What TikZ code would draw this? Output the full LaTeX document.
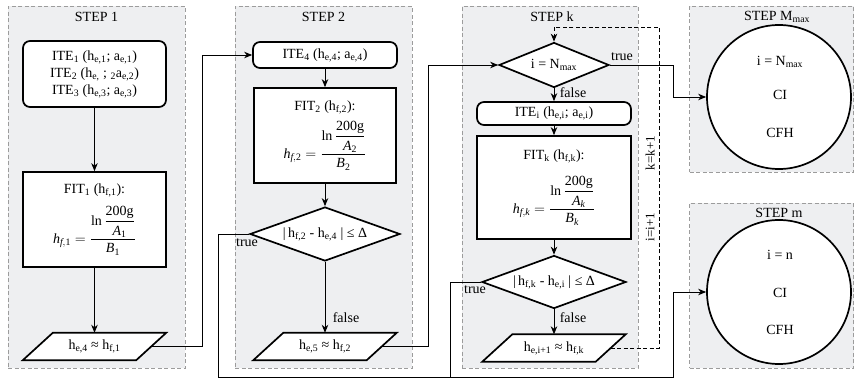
\documentclass[tikz,border=0pt]{standalone}
\usepackage{fontspec}
\setmainfont{Liberation Serif}
\usepackage{amsmath}
\usetikzlibrary{shapes.geometric,arrows.meta,calc}
\definecolor{panelgray}{HTML}{EEEFF1}
\definecolor{panelline}{HTML}{9C9C9C}
\newcommand\sbs[1]{\textsubscript{#1}}
\newcommand\fitformula[1]{$\displaystyle \textit{h}_{\textit{f},#1}=\frac{\textrm{ln}\,\dfrac{\textrm{200g}}{\textit{A}_{#1}}}{\textit{B}_{#1}}$}
\pgfdeclarelayer{back}
\pgfdeclarelayer{mid}
\pgfsetlayers{back,mid,main}
\begin{document}
\begin{tikzpicture}[x=1pt,y=-1pt,
  font=\fontsize{14pt}{17pt}\selectfont,
  panel/.style={draw=panelline, fill=panelgray, line width=0.8pt, dash pattern=on 4pt off 2.5pt, inner sep=0pt},
  thickbox/.style={draw, line width=1.7pt, fill=white},
  rbox/.style={thickbox, rounded corners=7pt, inner sep=0pt, align=center},
  sbox/.style={thickbox, inner sep=0pt, align=center},
  dia/.style={thickbox, shape=diamond, aspect=2.8, inner sep=0pt},
  circ/.style={thickbox, shape=circle, minimum size=144pt, inner sep=0pt},
  conn/.style={line width=0.9pt},
  arr/.style={conn, -{Stealth[length=8pt,width=6.5pt,inset=2.5pt]}},
  darr/.style={arr, dash pattern=on 4pt off 2.5pt},
  dconn/.style={conn, dash pattern=on 4pt off 2.5pt},
  pgram/.style={minimum width=113pt, minimum height=27pt, inner sep=0pt},
  lbl/.style={inner sep=1pt},
  rlbl/.style={inner sep=1pt, rotate=90, font=\fontsize{13pt}{15pt}\selectfont}
]
\useasboundingbox (0,0) rectangle (855,378);

% panels
\begin{pgfonlayer}{back}
\node[panel, minimum width=177pt, minimum height=362pt] (P1) at (96.5,187) {};
\node[panel, minimum width=177pt, minimum height=362pt] (P2) at (323.5,187) {};
\node[panel, minimum width=176pt, minimum height=362pt] (Pk) at (550,187) {};
\node[panel, minimum width=164pt, minimum height=166pt] (PM) at (771.5,89) {};
\node[panel, minimum width=164pt, minimum height=165pt] (Pm) at (771.5,285.5) {};
\end{pgfonlayer}

% titles
\node (t1) at (96.5,17) {STEP 1};
\node (t2) at (323.5,17) {STEP 2};
\node (tk) at (552,17) {STEP k};
\node (tM) at (777,17) {STEP M\sbs{max}};
\node (tm) at (779,213) {STEP m};

% step 1
\node[rbox, minimum width=143pt, minimum height=66pt] (ite123) at (94.5,74)
  {ITE\sbs{1} (h\sbs{e,1}; a\sbs{e,1})\\ITE\sbs{2} (h\sbs{e,} ; \sbs{2}a\sbs{e,2})\\ITE\sbs{3} (h\sbs{e,3}; a\sbs{e,3})};
\node[sbox, minimum width=143pt, minimum height=95pt] (fit1) at (94.5,219.5)
  {FIT\sbs{1} (h\sbs{f,1}):\\[8pt]\fitformula{\textrm{1}}};
\node[pgram] (pg1) at (94.5,346.5) {h\sbs{e,4} ≈ h\sbs{f,1}};

% step 2
\node[rbox, minimum width=144pt, minimum height=26pt] (ite4) at (325,55) {ITE\sbs{4} (h\sbs{e,4}; a\sbs{e,4})};
\node[sbox, minimum width=142pt, minimum height=95pt] (fit2) at (325,135.5)
  {FIT\sbs{2} (h\sbs{f,2}):\\[6pt]\fitformula{\textrm{2}}};
\node[dia, minimum width=150pt, minimum height=54pt] (d2) at (325,234) {|\,h\sbs{f,2} - h\sbs{e,4} | ≤ Δ};
\node[pgram] (pg2) at (325,346.5) {h\sbs{e,5} ≈ h\sbs{f,2}};

% step k
\node[dia, minimum width=110pt, minimum height=45pt] (dk1) at (554,65) {i = N\sbs{max}};
\node[rbox, minimum width=154pt, minimum height=23pt] (itei) at (554,113.5) {ITE\sbs{i} (h\sbs{e,i}; a\sbs{e,i})};
\node[sbox, minimum width=154pt, minimum height=103pt] (fitk) at (554,187.5)
  {FIT\sbs{k} (h\sbs{f,k}):\\[12pt]\fitformula{\textit{k}}};
\node[dia, minimum width=144pt, minimum height=53pt] (dk2) at (554,282) {|\,h\sbs{f,k} - h\sbs{e,i} | ≤ Δ};
\node[pgram] (pgk) at (554,348) {h\sbs{e,i+1} ≈ h\sbs{f,k}};

% parallelogram outlines
\begin{pgfonlayer}{mid}
\foreach \p in {pg1,pg2,pgk}{
  \draw[thickbox] ([xshift=15pt]\p.north west) -- ([xshift=15pt]\p.north east)
     -- ([xshift=-15pt]\p.south east) -- ([xshift=-15pt]\p.south west) -- cycle;
}
\end{pgfonlayer}

% final steps
\node[circ] (cM) at (779,97) {};
\node (cM1) at (780,62) {i = N\sbs{max}};
\node (cM2) at (780,95) {CI};
\node (cM3) at (780,133) {CFH};
\node[circ] (cm) at (779,292) {};
\node (cm1) at (780,255) {i = n};
\node (cm2) at (780,293) {CI};
\node (cm3) at (780,330) {CFH};

% junction coordinates
\coordinate (j1) at (202,346.5);
\coordinate (j2) at (218,377);
\coordinate (j3) at (673,377);
\coordinate (j4) at (428,346.5);
\coordinate (j5) at (673,0);
\coordinate (j6) at (450,377);
\coordinate (j7) at (659,27);

% connectors step 1
\draw[arr] (ite123.south) -- (fit1.north);
\draw[arr] (fit1.south) -- (pg1.north);
\draw[arr] (pg1.east) -- (j1) |- (ite4.west);

% connectors step 2
\draw[arr] (ite4.south) -- (fit2.north);
\draw[arr] (fit2.south) -- (d2.north);
\draw[arr] (d2.south) -- (pg2.north);
\draw[arr] (d2.west) -| (j2) -- (j3) |- (cm.west);
\draw[arr] (pg2.east) -- (j4) |- (dk1.west);

% connectors step k
\draw[arr] (dk1.south) -- (itei.north);
\draw[arr] (itei.south) -- (fitk.north);
\draw[arr] (fitk.south) -- (dk2.north);
\draw[arr] (dk2.south) -- (pgk.north);
\draw[conn] (dk2.west) -| (j6);
\draw[arr] (dk1.east) -- (dk1.east -| j5) |- (cM.west);
\draw[darr] (pgk.east) -| (j7) -| (dk1.north);

% labels
\node[lbl] (lt1) at (622,57) {true};
\node[lbl] (lf1) at (573,93) {false};
\node[lbl] (lt2) at (247,243) {true};
\node[lbl] (lf2) at (346,318) {false};
\node[lbl] (lt3) at (475,290) {true};
\node[lbl] (lf3) at (573,318) {false};
\node[rlbl] (rk) at (650,153) {k=k+1};
\node[rlbl] (ri) at (650,227) {i=i+1};
\end{tikzpicture}
\end{document}
